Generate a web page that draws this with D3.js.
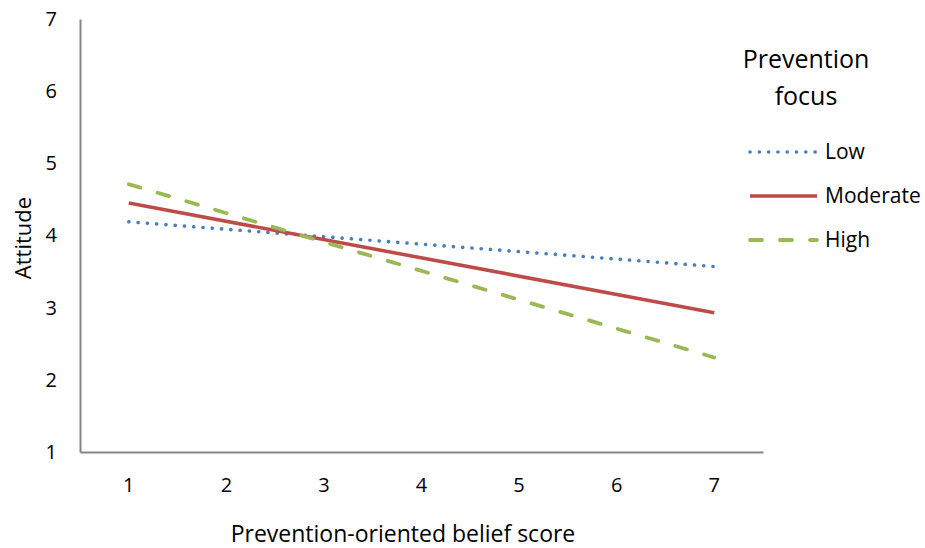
<!DOCTYPE html>
<html>
<head>
    <title></title>
    <style>
        body { margin: 0; background: #fff; }
        text { font-family: "Open Sans", sans-serif; fill: #000; }
    </style>
</head>
<body>
<div id="container"></div>

<script src="https://d3js.org/d3.v7.min.js" type="text/javascript"></script>
<script type="text/javascript">
    // data (values at belief score 1 and 7)
    const categories = ['1', '2', '3', '4', '5', '6', '7'];
    const yTicks = [1, 2, 3, 4, 5, 6, 7];
    const seriesNames = ['Low', 'Moderate', 'High'];
    const lowValues = [{x: '1', v: 4.19}, {x: '7', v: 3.57}];
    const moderateValues = [{x: '1', v: 4.45}, {x: '7', v: 2.93}];
    const highValues = [{x: '1', v: 4.71}, {x: '7', v: 2.31}];

    let w = 925;
    let h = 548;
    const svg = d3.select('#container')
        .append('svg')
        .attr('width', w)
        .attr('height', h);

    const margin = {top: 19, left: 80, right: 162, bottom: 96};

    let x = d3.scaleBand().domain(categories).range([margin.left, w - margin.right]);
    let y = d3.scaleLinear().domain([1, 7]).range([h - margin.bottom, margin.top]);

    const axisColor = '#868686';

    // y axis
    let yAxis = svg.append('g')
        .attr('transform', `translate(${margin.left}, 0)`)
        .call(d3.axisLeft(y).tickValues(yTicks).tickFormat(d3.format('d')).tickSize(0).tickPadding(23));
    yAxis.select('.domain').attr('stroke', axisColor).attr('stroke-width', 2);
    yAxis.selectAll('text').style('font-size', '20px').attr('fill', '#000');

    // x axis
    let xAxis = svg.append('g')
        .attr('transform', `translate(0, ${y(1)})`)
        .call(d3.axisBottom(x).tickSize(0).tickPadding(26));
    xAxis.select('.domain').attr('stroke', axisColor).attr('stroke-width', 2);
    xAxis.selectAll('text').style('font-size', '20px').attr('fill', '#000');

    const series = [
        {name: seriesNames[0], values: lowValues, color: '#4a7ebb', dash: '0.1,9.2', width: 3.6, cap: 'round'},
        {name: seriesNames[1], values: moderateValues, color: '#be4b48', dash: null, width: 3.6, cap: 'butt'},
        {name: seriesNames[2], values: highValues, color: '#98b954', dash: '12,18', width: 3.8, cap: 'round'}
    ];

    let line = d3.line()
        .x(d => x(d.x) + x.bandwidth() / 2)
        .y(d => y(d.v));

    series.forEach(s => {
        svg.append('path')
            .datum(s.values)
            .attr('d', line)
            .attr('fill', 'none')
            .attr('stroke', s.color)
            .attr('stroke-width', s.width)
            .attr('stroke-linecap', s.cap)
            .attr('stroke-dasharray', s.dash);
    });

    // axis titles
    svg.append('text')
        .attr('transform', `translate(31, 238) rotate(-90)`)
        .attr('text-anchor', 'middle')
        .style('font-size', '22px')
        .text('Attitude');

    svg.append('text')
        .attr('x', 403)
        .attr('y', 542)
        .attr('text-anchor', 'middle')
        .style('font-size', '23px')
        .text('Prevention-oriented belief score');

    // legend
    const legend = svg.append('g');
    legend.append('text')
        .attr('x', 806).attr('y', 68)
        .attr('text-anchor', 'middle')
        .style('font-size', '25px')
        .text('Prevention');
    legend.append('text')
        .attr('x', 806).attr('y', 105)
        .attr('text-anchor', 'middle')
        .style('font-size', '25px')
        .text('focus');

    series.forEach((s, i) => {
        let ly = 152 + i * 44;
        legend.append('line')
            .attr('x1', 750).attr('x2', 817)
            .attr('y1', ly).attr('y2', ly)
            .attr('stroke', s.color)
            .attr('stroke-width', s.width)
            .attr('stroke-linecap', s.cap)
            .attr('stroke-dasharray', s.dash);
        legend.append('text')
            .attr('x', 825).attr('y', ly + 7)
            .style('font-size', '21px')
            .text(s.name);
    });
</script>
</body>
</html>
